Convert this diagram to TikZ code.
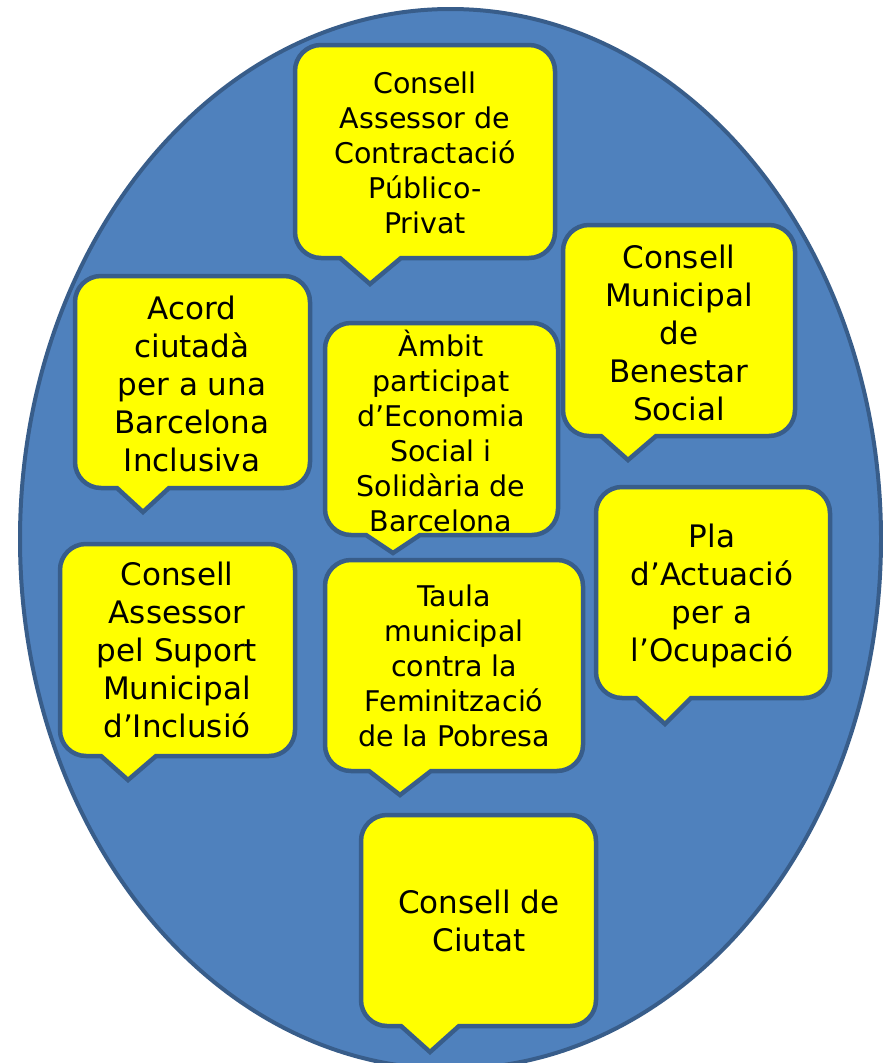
\documentclass[tikz,border=0pt]{standalone}
\usepackage{fontspec}
\setmainfont{DejaVu Sans}
\definecolor{ovalfill}{HTML}{4F81BD}
\definecolor{ovalline}{HTML}{385D8A}
\definecolor{notefill}{HTML}{FFFF00}
\tikzset{
  oval/.style={draw=ovalline, fill=ovalfill, line width=4pt},
  bubble/.style={draw=ovalline, fill=notefill, line width=4.5pt, line join=miter},
  bigtext/.style={align=center, inner sep=0pt, font=\fontsize{31}{38}\selectfont},
  smalltext/.style={align=center, inner sep=0pt, font=\fontsize{28.5}{35}\selectfont},
}
% left, top, right, bottom, pointer base left, pointer base right, tip x, tip y
\newcommand{\bubblebox}[8]{%
  \draw[bubble] (#5,#4) [rounded corners=26pt] -- (#1,#4) -- (#1,#2) -- (#3,#2) -- (#3,#4) [sharp corners] -- (#6,#4) -- (#7,#8) -- cycle;}

\begin{document}
\begin{tikzpicture}[x=1pt, y=-1pt]
        \useasboundingbox (0,0) rectangle (883,1063);
        \draw[oval] (450.5,539) ellipse [x radius=430.5, y radius=530];

        \bubblebox{295}{45}{555}{258}{340}{401}{370}{284}
        \bubblebox{75}{276}{310}{488}{117}{169}{143}{512}
        \bubblebox{563}{225}{795}{436}{601}{656}{628}{460}
        \bubblebox{325}{323}{558}{535}{366}{420}{393}{553}
        \bubblebox{596}{487}{830}{698}{636}{691}{665}{724}
        \bubblebox{60}{544}{295}{756}{101}{156}{128}{780}
        \bubblebox{325}{560}{583}{771}{369}{431}{400}{795}
        \bubblebox{361}{815}{596}{1026}{401}{459}{430}{1052}

        \node (contract) [smalltext] at (425,153) {Consell\\Assessor de\\Contractació\\Público-\\Privat};
        \node (acord) [bigtext] at (192,384) {Acord\\ciutadà\\per a una\\Barcelona\\Inclusiva};
        \node (benestar) [bigtext] at (679,333) {Consell\\Municipal\\de\\Benestar\\Social};
        \node (ambit) [smalltext] at (441,431) {Àmbit\\participat\\d’Economia\\Social i\\Solidària de\\Barcelona};
        \node (ocupacio) [bigtext] at (712,596) {Pla\\d’Actuació\\per a\\l’Ocupació};
        \node (suport) [bigtext] at (177,650) {Consell\\Assessor\\pel Suport\\Municipal\\d’Inclusió};
        \node (taula) [smalltext] at (454,666) {Taula\\municipal\\contra la\\Feminització\\de la Pobresa};
        \node (ciutat) [bigtext] at (479,921) {Consell de\\Ciutat};
\end{tikzpicture}
\end{document}
